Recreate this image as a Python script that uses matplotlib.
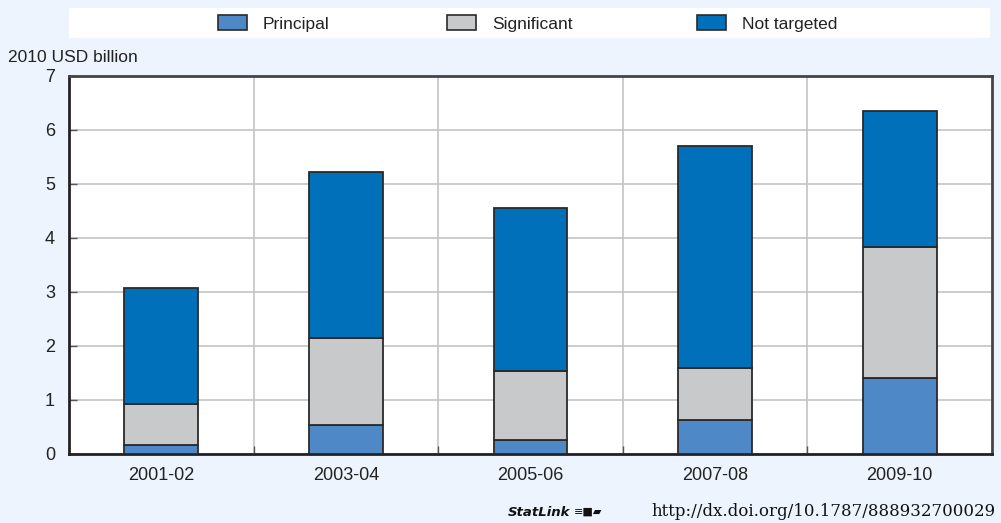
import matplotlib
matplotlib.use("Agg")
import matplotlib.pyplot as plt
from matplotlib.patches import Rectangle
import numpy as np

categories = ["2001-02", "2003-04", "2005-06", "2007-08", "2009-10"]
principal = [0.17, 0.54, 0.26, 0.63, 1.41]
significant = [0.76, 1.61, 1.28, 0.96, 2.42]
not_targeted = [2.14, 3.07, 3.02, 4.11, 2.52]
series_names = ["Principal", "Significant", "Not targeted"]
colors = ["#4F88C6", "#C8C9CB", "#0070BA"]
yticks = [0, 1, 2, 3, 4, 5, 6, 7]

W, H = 1001, 523
fig = plt.figure(figsize=(W / 100, H / 100), dpi=100)
fig.patch.set_facecolor("#EDF4FD")

sans = ["Liberation Sans", "DejaVu Sans"]
txt = "#222222"

ax = fig.add_axes([69 / W, (H - 454) / H, 923 / W, 378 / H])
ax.set_facecolor("white")
x = np.arange(len(categories))
bottom = np.zeros(len(categories))
for vals, c, name in zip([principal, significant, not_targeted], colors, series_names):
    ax.bar(x, vals, width=0.4, bottom=bottom, color=c, edgecolor="#2a2a2a",
           linewidth=1.3, label=name, zorder=3)
    bottom += np.array(vals)

ax.set_xlim(-0.5, len(categories) - 0.5)
ax.set_ylim(0, 7)
ax.set_yticks(yticks)
ax.set_yticklabels([str(v) for v in yticks], family=sans, fontsize=13, color=txt)
ax.set_xticks(x)
ax.set_xticklabels(categories, family=sans, fontsize=13, color=txt)
ax.tick_params(axis="x", length=0, pad=9)
ax.tick_params(axis="y", direction="in", length=6, width=1, color="#555555", pad=10)
ax.set_xticks(np.arange(0.5, len(categories) - 0.5, 1), minor=True)
ax.tick_params(axis="x", which="minor", direction="in", length=6, width=1, color="#555555")
ax.grid(axis="y", which="major", color="#C4C4C4", linewidth=1.2, zorder=0)
ax.grid(axis="x", which="minor", color="#C4C4C4", linewidth=1.2, zorder=0)
ax.grid(axis="x", which="major", visible=False)
ax.set_axisbelow(True)
for side in ["left", "bottom"]:
    ax.spines[side].set_linewidth(2)
    ax.spines[side].set_color("#222222")
for side in ["top", "right"]:
    ax.spines[side].set_linewidth(2)
    ax.spines[side].set_color("#444444")

fig.text(8 / W, 1 - 57 / H, "2010 USD billion", family=sans, fontsize=12.5,
         color=txt, va="center", ha="left")

# legend box
fig.patches.append(Rectangle((69 / W, 1 - 38 / H), 921 / W, 30 / H,
                             transform=fig.transFigure, facecolor="white",
                             edgecolor="none", zorder=0))
patch_x = [218, 447, 697]
for px, c, name in zip(patch_x, colors, series_names):
    fig.patches.append(Rectangle((px / W, 1 - 30 / H), 29 / W, 15 / H,
                                 transform=fig.transFigure, facecolor=c,
                                 edgecolor="#2a2a2a", linewidth=1.2, zorder=2))
    fig.text((px + 45) / W, 1 - 24 / H, name, family=sans, fontsize=12.5,
             color=txt, va="center", ha="left")

# statlink
fig.text(508 / W, 1 - 512 / H, "StatLink", fontsize=9.5, style="italic", weight="bold",
         family=["DejaVu Sans"], color="#111111", va="center", ha="left")
fig.text(574 / W, 1 - 512 / H, "\u2261\u25A0\u25B0", fontsize=8, family=["DejaVu Sans"],
         color="#111111", va="center", ha="left")
fig.text(996 / W, 1 - 512 / H, "http://dx.doi.org/10.1787/888932700029", fontsize=12,
         family=["DejaVu Serif"], color="#111111", va="center", ha="right")

fig.savefig("out.png", dpi=100, facecolor=fig.get_facecolor())
